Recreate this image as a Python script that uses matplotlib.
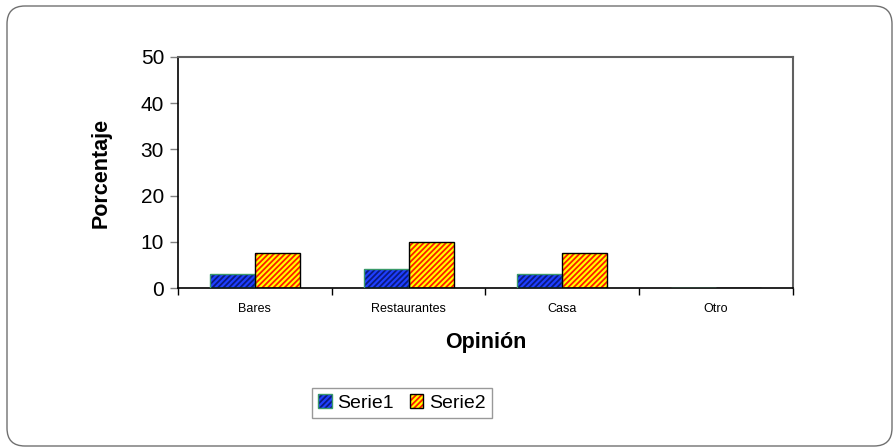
import matplotlib
matplotlib.use('Agg')
import matplotlib.pyplot as plt
from matplotlib.patches import FancyBboxPatch, Patch
import numpy as np

categorias = ['Bares', 'Restaurantes', 'Casa', 'Otro']
serie1 = [3.1, 4.2, 3.1, 0]
serie2 = [7.6, 10.0, 7.6, 0]

plt.rcParams['font.family'] = ['Liberation Sans', 'DejaVu Sans']
plt.rcParams['hatch.linewidth'] = 1.3

fig = plt.figure(figsize=(8.95, 4.48), dpi=100)

# marco redondeado del grafico
marco = FancyBboxPatch((7 / 895, 2 / 448), 885 / 895, 440 / 448,
                       boxstyle='round,pad=0,rounding_size=0.02',
                       transform=fig.transFigure, fill=False,
                       edgecolor='#707070', linewidth=1.0, mutation_aspect=2.0,
                       zorder=-1)
fig.patches.append(marco)

ax = fig.add_axes([178 / 895, 160 / 448, 615 / 895, 231 / 448])
x = np.arange(len(categorias))
w = 0.293

# relleno rayado (el color de la trama sale de edgecolor)
ax.bar(x - w / 2, serie1, w, color='#1f3fff', hatch='//////',
       edgecolor='#0a1a80', linewidth=0, zorder=2)
ax.bar(x + w / 2, serie2, w, color='#ffff00', hatch='//////',
       edgecolor='#ff1a00', linewidth=0, zorder=2)
# contornos
ax.bar(x - w / 2, serie1, w, fill=False, edgecolor='#3a9a6a', linewidth=1.0, zorder=3)
ax.bar(x + w / 2, serie2, w, fill=False, edgecolor='black', linewidth=1.0, zorder=3)

ax.set_xlim(-0.5, 3.5)
ax.set_ylim(0, 50)
ax.set_yticks([0, 10, 20, 30, 40, 50])
ax.tick_params(axis='y', labelsize=15, length=6, color='#808080', width=1, pad=4)

ax.set_xticks(np.arange(-0.5, 4, 1))
ax.set_xticklabels([])
ax.set_xticks(x, minor=True)
ax.set_xticklabels(categorias, minor=True)
ax.tick_params(axis='x', which='major', length=5, color='black', width=1)
ax.tick_params(axis='x', which='minor', length=0, labelsize=9, pad=11)

for lado in ['left', 'bottom']:
    ax.spines[lado].set_color('black')
    ax.spines[lado].set_linewidth(1.2)
for lado in ['top', 'right']:
    ax.spines[lado].set_color('#606060')
    ax.spines[lado].set_linewidth(1.5)

ax.set_ylabel('Porcentaje', fontsize=15.5, fontweight='bold', labelpad=21)
ax.set_xlabel('Opinión', fontsize=15.5, fontweight='bold', labelpad=12)

# leyenda: trama y contorno superpuestos
h1 = (Patch(facecolor='#1f3fff', hatch='//////', edgecolor='#0a1a80', linewidth=0),
      Patch(fill=False, edgecolor='#3a9a6a', linewidth=1.0))
h2 = (Patch(facecolor='#ffff00', hatch='//////', edgecolor='#ff1a00', linewidth=0),
      Patch(fill=False, edgecolor='black', linewidth=1.0))
fig.legend(handles=[h1, h2], labels=['Serie1', 'Serie2'], loc='center',
           bbox_to_anchor=(402 / 895, 45 / 448),
           ncol=2, fontsize=14, frameon=True, fancybox=False, edgecolor='#808080',
           handlelength=0.7, handleheight=0.7, handletextpad=0.3, columnspacing=0.8,
           borderpad=0.3)

fig.savefig('out.png', dpi=100)
